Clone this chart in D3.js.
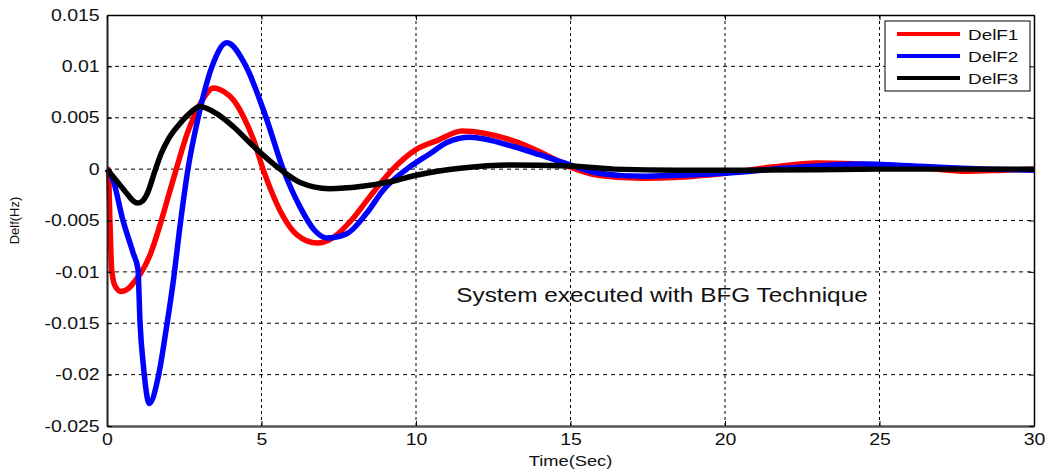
<!DOCTYPE html>
<html>
<head>
<meta charset="utf-8">
<script src="https://cdn.jsdelivr.net/npm/d3@7"></script>
<style>
  body { margin: 0; background: #fff; }
  text { font-family: "Liberation Sans", Arial, sans-serif; fill: #111; }
</style>
</head>
<body>
<div id="chart"></div>
<script>
// values
var timeRed = [0, 0.04, 0.1, 0.15, 0.25, 0.45, 0.7, 0.9, 1.1, 1.4, 1.7, 2.0, 2.3, 2.6, 2.8, 3.1, 3.45, 3.8, 4.1, 4.4, 4.75, 5.05, 5.3, 5.7, 6.15, 6.8, 7.3, 7.9, 8.5, 9.25, 10.0, 10.7, 11.5, 12.2, 13.2, 14.0, 15.0, 15.9, 17.3, 18.5, 20.0, 21.5, 23.0, 25.0, 26.5, 27.8, 29.0, 30];
var delF1 = [0, 0, -0.0056, -0.0097, -0.0113, -0.0119, -0.0116, -0.0109, -0.0101, -0.0083, -0.0056, -0.0025, 0.0006, 0.0035, 0.005, 0.0068, 0.0079, 0.0075, 0.0067, 0.0052, 0.0028, 0, -0.002, -0.0046, -0.0064, -0.0072, -0.0067, -0.005, -0.0027, 0, 0.0019, 0.0028, 0.0037, 0.0035, 0.0027, 0.0017, 0.0002, -0.0006, -0.0009, -0.0008, -0.0004, 0.0002, 0.0006, 0.0004, 0.0001, -0.0002, -0.0001, 0];

var timeBlue = [0, 0.2, 0.5, 0.85, 1.0, 1.07, 1.18, 1.37, 1.66, 1.93, 2.15, 2.36, 2.62, 2.95, 3.4, 3.88, 4.5, 5.15, 5.7, 6.25, 6.7, 7.1, 7.75, 8.4, 8.95, 9.7, 10.45, 11.0, 11.75, 13.15, 14.0, 15.0, 15.9, 17.3, 18.5, 20.0, 22.0, 24.4, 26.8, 28.5, 30];
var delF2 = [0, -0.0011, -0.0048, -0.0082, -0.0097, -0.015, -0.0192, -0.0228, -0.0202, -0.0153, -0.0108, -0.0056, 0, 0.005, 0.01, 0.0123, 0.01, 0.005, 0, -0.0037, -0.0059, -0.0067, -0.0063, -0.0043, -0.002, 0, 0.0015, 0.0026, 0.0031, 0.0022, 0.0014, 0.0004, -0.0004, -0.0007, -0.0006, -0.0004, 0.0001, 0.0005, 0.0002, 0, -0.0001];

var timeBlack = [0, 0.3, 0.65, 0.85, 1.0, 1.15, 1.3, 1.55, 1.75, 2.0, 2.35, 2.7, 3.0, 3.55, 4.1, 4.75, 5.6, 6.25, 7.2, 8.2, 9.2, 10.0, 11.5, 13.0, 15.0, 16.4, 18.5, 21.0, 25.0, 30];
var delF3 = [0, -0.0011, -0.0024, -0.0031, -0.0033, -0.0031, -0.0024, -0.0002, 0.0015, 0.003, 0.0044, 0.0055, 0.0061, 0.0054, 0.0041, 0.0022, 0, -0.0013, -0.0019, -0.0017, -0.0012, -0.0006, 0.0001, 0.0004, 0.0003, 0, -0.0001, -0.0001, 0, 0];

var seriesNames = ["DelF1", "DelF2", "DelF3"];
var seriesColors = ["#ff0000", "#0000ff", "#000000"];
var xTicks = [0, 5, 10, 15, 20, 25, 30];
var yTicks = [-0.025, -0.02, -0.015, -0.01, -0.005, 0, 0.005, 0.01, 0.015];
var yTickLabels = ["-0.025", "-0.02", "-0.015", "-0.01", "-0.005", "0", "0.005", "0.01", "0.015"];

// the source picture is stretched sideways, so the text is too
var stretch = 1.22;

var margin = { top: 15, right: 13, bottom: 44, left: 107 };
var width = 1047 - margin.left - margin.right;
var height = 470 - margin.top - margin.bottom;

var svg = d3.select("#chart").append("svg")
    .attr("width", 1047)
    .attr("height", 470);

var g = svg.append("g")
    .attr("transform", "translate(" + margin.left + "," + margin.top + ")");

var x = d3.scaleLinear().domain([0, 30]).range([0, width]);
var y = d3.scaleLinear().domain([-0.025, 0.015]).range([height, 0]);

// grid
g.append("g").selectAll("line").data(xTicks.slice(1, -1)).enter().append("line")
    .attr("x1", function(d) { return x(d); })
    .attr("x2", function(d) { return x(d); })
    .attr("y1", 0).attr("y2", height)
    .style("stroke", "#000").style("stroke-width", 1)
    .style("stroke-dasharray", "3,3");
g.append("g").selectAll("line").data(yTicks.slice(1, -1)).enter().append("line")
    .attr("y1", function(d) { return y(d); })
    .attr("y2", function(d) { return y(d); })
    .attr("x1", 0).attr("x2", width)
    .style("stroke", "#000").style("stroke-width", 1)
    .style("stroke-dasharray", "4,4");

// curves
var series = [
    { t: timeRed, v: delF1 },
    { t: timeBlue, v: delF2 },
    { t: timeBlack, v: delF3 }
];
var line = d3.line()
    .x(function(d) { return x(d[0]); })
    .y(function(d) { return y(d[1]); })
    .curve(d3.curveMonotoneX);

series.forEach(function(s, i) {
    g.append("path")
        .datum(d3.zip(s.t, s.v))
        .attr("d", line)
        .style("fill", "none")
        .style("stroke", seriesColors[i])
        .style("stroke-width", 5.5)
        .style("stroke-linejoin", "round");
});

// axes, ticks inside like matlab
var xAxis = g.append("g")
    .attr("transform", "translate(0," + height + ")")
    .call(d3.axisBottom(x).tickValues(xTicks).tickSizeInner(-5).tickSizeOuter(0).tickPadding(8));
var yAxis = g.append("g")
    .call(d3.axisLeft(y).tickValues(yTicks).tickFormat(function(d, i) { return yTickLabels[i]; })
        .tickSizeInner(-5).tickSizeOuter(0).tickPadding(6));
g.append("g")
    .call(d3.axisTop(x).tickValues(xTicks).tickSizeInner(-5).tickSizeOuter(0).tickFormat(""));
g.append("g")
    .attr("transform", "translate(" + width + ",0)")
    .call(d3.axisRight(y).tickValues(yTicks).tickSizeInner(-5).tickSizeOuter(0).tickFormat(""));

g.selectAll(".domain").style("stroke", "#000").style("stroke-width", 1.5);
xAxis.select(".domain").style("stroke", "#555").style("stroke-width", 2.5);
yAxis.select(".domain").style("stroke", "#222").style("stroke-width", 2);
g.selectAll(".tick text")
    .style("font-size", "16px").style("fill", "#111")
    .style("font-family", "'Liberation Sans', Arial, sans-serif")
    .attr("transform", "scale(" + stretch + ",1)");

// labels
function stretchedText(parent, px, py, anchor, size, str) {
    return parent.append("text")
        .attr("transform", "translate(" + px + "," + py + ") scale(" + stretch + ",1)")
        .attr("text-anchor", anchor)
        .style("font-size", size + "px")
        .text(str);
}

stretchedText(svg, margin.left + width / 2, 466, "middle", 15, "Time(Sec)");

svg.append("text")
    .attr("transform", "translate(19," + (margin.top + height / 2) + ") rotate(-90)")
    .attr("text-anchor", "middle")
    .style("font-size", "13px")
    .text("Delf(Hz)");

stretchedText(g, x(11.3), y(-0.0129), "start", 20, "System executed with BFG Technique");

// legend
var legend = g.append("g")
    .attr("transform", "translate(" + (885 - margin.left) + "," + (21 - margin.top) + ")");
legend.append("rect")
    .attr("width", 145).attr("height", 70)
    .style("fill", "#fff").style("stroke", "#000").style("stroke-width", 1);
seriesNames.forEach(function(name, i) {
    var row = legend.append("g").attr("transform", "translate(0," + (13 + i * 22) + ")");
    row.append("line")
        .attr("x1", 12).attr("x2", 75)
        .style("stroke", seriesColors[i]).style("stroke-width", 4);
    stretchedText(row, 83, 6, "start", 15.5, name);
});
</script>
</body>
</html>
